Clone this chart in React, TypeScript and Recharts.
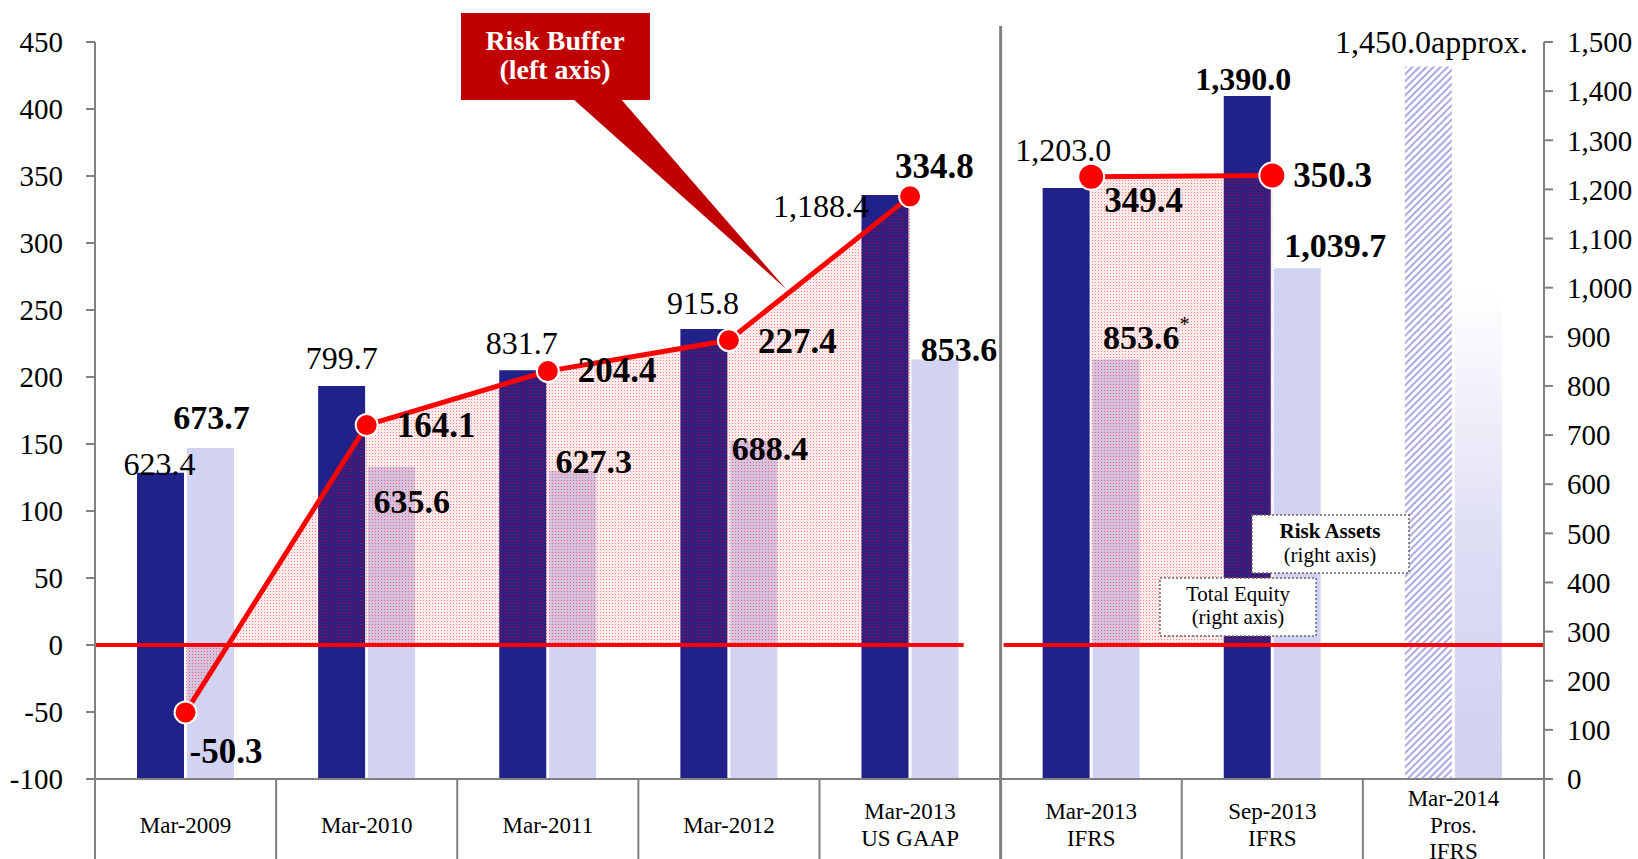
import { ComposedChart, Bar, Area, Line, XAxis, YAxis, ReferenceLine, LabelList, Cell } from 'recharts';

const categories = ['Mar-2009', 'Mar-2010', 'Mar-2011', 'Mar-2012', 'Mar-2013\nUS GAAP', 'Mar-2013\nIFRS', 'Sep-2013\nIFRS', 'Mar-2014\nPros.\nIFRS'];
const riskAssets = [623.4, 799.7, 831.7, 915.8, 1188.4, 1203.0, 1390.0, 1450.0];
const totalEquity = [673.7, 635.6, 627.3, 688.4, 853.6, 853.6, 1039.7, 1000];
const riskBufferUS = [-50.3, 164.1, 204.4, 227.4, 334.8, null, null, null];
const riskBufferIFRS = [null, null, null, null, null, 349.4, 350.3, null];
const leftTicks = [-100, -50, 0, 50, 100, 150, 200, 250, 300, 350, 400, 450];
const rightTicks = [0, 100, 200, 300, 400, 500, 600, 700, 800, 900, 1000, 1100, 1200, 1300, 1400, 1500];

const data = categories.map((cat, i) => ({
  cat,
  assets: riskAssets[i],
  equity: totalEquity[i],
  bufUS: riskBufferUS[i],
  bufIFRS: riskBufferIFRS[i],
}));

// layout
const W = 1638;
const H = 859;
const PLOT_L = 95;
const PLOT_R = 1544;
const PLOT_B = 779;
const HALF_BAND = (PLOT_R - PLOT_L) / categories.length / 2;
const SEP_X = PLOT_L + HALF_BAND * 2 * 5;
const SERIF = '"Liberation Serif", "Times New Roman", serif';
const DARK = '#21218a';
const LIGHT = '#d2d2f2';
const RED = '#ff0000';
const GRID = '#808080';

// label nudges (label centre relative to bar top / point)
const assetNudge = [[-1, -9], [0, -28], [-1, -27], [-1, -26], [-64, 11], [-3, -38], [-4, -17], [3, -25]];
const equityNudge = [[1, -30], [20, 35], [21, -9], [16, 8], [24, -10], [30, -22], [38, -23], [0, 0]];
const bufferNudge = [[4, 39], [30, 0], [30, -1], [29, 1], [-15, -30], [13, 24], [21, 0], [0, 0]];

const fmt = (v: number) => v.toLocaleString('en-US', { minimumFractionDigits: 1, maximumFractionDigits: 1 });

function AssetLabel(props: any) {
  const vb = props.viewBox || props;
  const i = props.index;
  if (props.value == null) return null;
  const [dx, dy] = assetNudge[i];
  const text = i === 7 ? fmt(props.value) + 'approx.' : fmt(props.value);
  return (
    <text x={vb.x + vb.width / 2 + dx} y={vb.y + dy} textAnchor="middle" dominantBaseline="central"
      fontFamily={SERIF} fontSize={32} fontWeight={i === 6 ? 'bold' : 'normal'} fill="#000">
      {text}
    </text>
  );
}

function EquityLabel(props: any) {
  const vb = props.viewBox || props;
  const i = props.index;
  if (props.value == null || i === 7) return null;
  const [dx, dy] = equityNudge[i];
  return (
    <text x={vb.x + vb.width / 2 + dx} y={vb.y + dy} textAnchor="middle" dominantBaseline="central"
      fontFamily={SERIF} fontSize={34} fontWeight="bold" fill="#000">
      {fmt(props.value)}
      {i === 5 && <tspan dy={-14} fontSize={20} fontWeight="normal">*</tspan>}
    </text>
  );
}

function BufferLabel(props: any) {
  const vb = props.viewBox || props;
  const i = props.index;
  if (props.value == null) return null;
  const [dx, dy] = bufferNudge[i];
  return (
    <text x={vb.x + dx} y={vb.y + dy} textAnchor="start" dominantBaseline="central"
      fontFamily={SERIF} fontSize={35} fontWeight="bold" fill="#000">
      {fmt(props.value)}
    </text>
  );
}

function CatTick(props: any) {
  const { x, index, payload } = props;
  const lines = String(payload.value).split('\n');
  const left = x - HALF_BAND;
  return (
    <g>
      <line x1={left} x2={left} y1={index === 5 ? 26 : PLOT_B} y2={H} stroke={GRID} strokeWidth={index === 5 ? 3 : 2} />
      {index === categories.length - 1 && (
        <line x1={x + HALF_BAND} x2={x + HALF_BAND} y1={PLOT_B} y2={H} stroke={GRID} strokeWidth={2} />
      )}
      {lines.map((ln, k) => (
        <text key={k} x={x} y={825 + (k - (lines.length - 1) / 2) * 26.5} textAnchor="middle" dominantBaseline="central"
          fontFamily={SERIF} fontSize={23} fill="#000">
          {ln}
        </text>
      ))}
    </g>
  );
}

function ZeroLine(p: any) {
  const y = p.y1 ?? p.y;
  return (
    <g>
      <line x1={p.x1} x2={SEP_X - 37} y1={y} y2={y} stroke={RED} strokeWidth={4} />
      <line x1={SEP_X + 3} x2={p.x2} y1={y} y2={y} stroke={RED} strokeWidth={4} />
    </g>
  );
}

export default function App() {
  return (
    <div style={{ position: 'absolute', left: 0, top: 0, width: W, height: H, overflow: 'hidden', background: '#fff' }}>
      <ComposedChart width={W} height={H} data={data} margin={{ top: 42, right: 10, bottom: 0, left: 10 }} barGap={3}>
        <defs>
          <pattern id="rbDots" width="3" height="3" patternUnits="userSpaceOnUse">
            <rect width="3" height="3" fill={RED} fillOpacity="0.08" />
            <rect width="1" height="1" fill={RED} fillOpacity="0.45" />
          </pattern>
          <pattern id="hatch" width="5" height="5" patternUnits="userSpaceOnUse" patternTransform="rotate(45)">
            <rect width="5" height="5" fill="#fff" />
            <line x1="1" y1="0" x2="1" y2="5" stroke="#9494de" strokeWidth="1.6" />
          </pattern>
          <linearGradient id="fade" x1="0" y1="0" x2="0" y2="1">
            <stop offset="0%" stopColor="#ffffff" />
            <stop offset="55%" stopColor="#dcdcf4" />
            <stop offset="100%" stopColor="#d0d0f0" />
          </linearGradient>
        </defs>
        <XAxis dataKey="cat" interval={0} height={80} tickLine={false} tick={<CatTick />}
          axisLine={{ stroke: GRID, strokeWidth: 2 }} />
        <YAxis yAxisId="left" domain={[-100, 450]} ticks={leftTicks} width={85} tickSize={9} tickMargin={23}
          axisLine={{ stroke: GRID, strokeWidth: 2 }} tickLine={{ stroke: GRID, strokeWidth: 2 }}
          tick={{ fontSize: 29, fill: '#000', fontFamily: SERIF }} />
        <YAxis yAxisId="right" orientation="right" domain={[0, 1500]} ticks={rightTicks} width={84} tickSize={9} tickMargin={14}
          axisLine={{ stroke: GRID, strokeWidth: 2 }} tickLine={{ stroke: GRID, strokeWidth: 2 }}
          tickFormatter={(v: number) => v.toLocaleString('en-US')}
          tick={{ fontSize: 29, fill: '#000', fontFamily: SERIF }} />
        <Bar yAxisId="right" dataKey="assets" barSize={47} fill={DARK} isAnimationActive={false}>
          {data.map((d, i) => (
            <Cell key={d.cat} fill={i === 7 ? 'url(#hatch)' : DARK} />
          ))}
          <LabelList dataKey="assets" content={<AssetLabel />} />
        </Bar>
        <Bar yAxisId="right" dataKey="equity" barSize={47} fill={LIGHT} isAnimationActive={false}>
          {data.map((d, i) => (
            <Cell key={d.cat} fill={i === 7 ? 'url(#fade)' : LIGHT} />
          ))}
          <LabelList dataKey="equity" content={<EquityLabel />} />
        </Bar>
        <Area yAxisId="left" type="linear" dataKey="bufUS" baseValue={0} stroke="none" zIndex={350}
          fill="url(#rbDots)" fillOpacity={1} connectNulls={false} activeDot={false} dot={false} isAnimationActive={false} />
        <Area yAxisId="left" type="linear" dataKey="bufIFRS" baseValue={0} stroke="none" zIndex={350}
          fill="url(#rbDots)" fillOpacity={1} connectNulls={false} activeDot={false} dot={false} isAnimationActive={false} />
        <Line yAxisId="left" type="linear" dataKey="bufUS" stroke={RED} strokeWidth={5} connectNulls={false} activeDot={false}
          dot={{ r: 11, fill: RED, stroke: '#fff', strokeWidth: 2 }} isAnimationActive={false}>
          <LabelList dataKey="bufUS" content={<BufferLabel />} />
        </Line>
        <Line yAxisId="left" type="linear" dataKey="bufIFRS" stroke={RED} strokeWidth={5} connectNulls={false} activeDot={false}
          dot={{ r: 13, fill: RED, stroke: '#fff', strokeWidth: 2 }} isAnimationActive={false}>
          <LabelList dataKey="bufIFRS" content={<BufferLabel />} />
        </Line>
        <ReferenceLine yAxisId="left" y={0} shape={<ZeroLine />} />
      </ComposedChart>

      <svg width={W} height={H} style={{ position: 'absolute', left: 0, top: 0, pointerEvents: 'none' }}>
        <polygon points="572,98 620,98 786,289" fill="#c00000" />
        <rect x={461} y={13} width={189} height={87} fill="#c00000" />
        <text x={555} y={40} textAnchor="middle" dominantBaseline="central" fontFamily={SERIF} fontSize={28} fontWeight="bold" fill="#fff">Risk Buffer</text>
        <text x={555} y={69} textAnchor="middle" dominantBaseline="central" fontFamily={SERIF} fontSize={28} fontWeight="bold" fill="#fff">(left axis)</text>

        <rect x={1160} y={578} width={156} height={58} fill="#fff" stroke="#666" strokeWidth={1.5} strokeDasharray="2 2" />
        <text x={1238} y={594} textAnchor="middle" dominantBaseline="central" fontFamily={SERIF} fontSize={21} fill="#000">Total Equity</text>
        <text x={1238} y={617} textAnchor="middle" dominantBaseline="central" fontFamily={SERIF} fontSize={21} fill="#000">(right axis)</text>

        <rect x={1252} y={515} width={157} height={58} fill="#fff" stroke="#666" strokeWidth={1.5} strokeDasharray="2 2" />
        <text x={1330} y={531} textAnchor="middle" dominantBaseline="central" fontFamily={SERIF} fontSize={21} fontWeight="bold" fill="#000">Risk Assets</text>
        <text x={1330} y={555} textAnchor="middle" dominantBaseline="central" fontFamily={SERIF} fontSize={21} fill="#000">(right axis)</text>
      </svg>
    </div>
  );
}
